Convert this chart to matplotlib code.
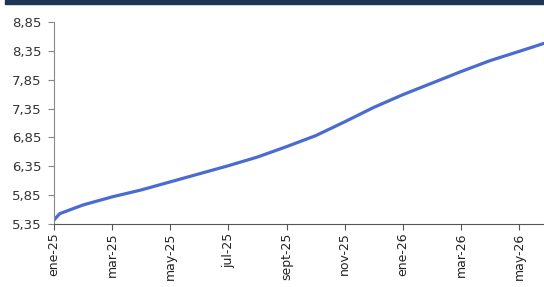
import matplotlib
matplotlib.use("Agg")
import matplotlib.pyplot as plt
from matplotlib.patches import Rectangle

# months since ene-25
months = [0, 0.2, 1, 2, 3, 4, 5, 6, 7, 8, 9, 10, 11, 12, 13, 14, 15, 16, 16.86]
values = [5.42, 5.53, 5.68, 5.82, 5.94, 6.08, 6.22, 6.36, 6.51, 6.69, 6.88,
          7.12, 7.37, 7.59, 7.79, 7.99, 8.18, 8.34, 8.48]

tick_pos = [0, 2, 4, 6, 8, 10, 12, 14, 16]
tick_labels = ["ene-25", "mar-25", "may-25", "jul-25", "sept-25", "nov-25",
               "ene-26", "mar-26", "may-26"]
y_ticks = [5.35, 5.85, 6.35, 6.85, 7.35, 7.85, 8.35, 8.85]

fig = plt.figure(figsize=(5.44, 2.87), dpi=100)
ax = fig.add_axes([54 / 544, 63 / 287, 1 - 54 / 544, 202 / 287])

ax.plot(months, values, color="#4a6cd0", linewidth=2.3, solid_capstyle="round",
        solid_joinstyle="round")

ax.set_xlim(0, 16.86)
ax.set_ylim(5.35, 8.85)
ax.set_yticks(y_ticks)
ax.set_yticklabels([f"{v:.2f}".replace(".", ",") for v in y_ticks],
                   fontsize=9.5, color="#333333")
ax.set_xticks(tick_pos)
ax.set_xticklabels(tick_labels, rotation=90, fontsize=9, color="#222222")

for side in ["top", "right"]:
    ax.spines[side].set_visible(False)
ax.spines["left"].set_color("#888888")
ax.spines["bottom"].set_color("#555555")
ax.tick_params(axis="y", length=4, color="#888888", pad=5)
ax.tick_params(axis="x", length=4, color="#555555", pad=2)

# dark band at the top of the picture
fig.patches.append(Rectangle((5 / 544, 283 / 287), 1, 4 / 287,
                             transform=fig.transFigure, color="#1f3352",
                             zorder=10))

fig.savefig("out.png", dpi=100)
